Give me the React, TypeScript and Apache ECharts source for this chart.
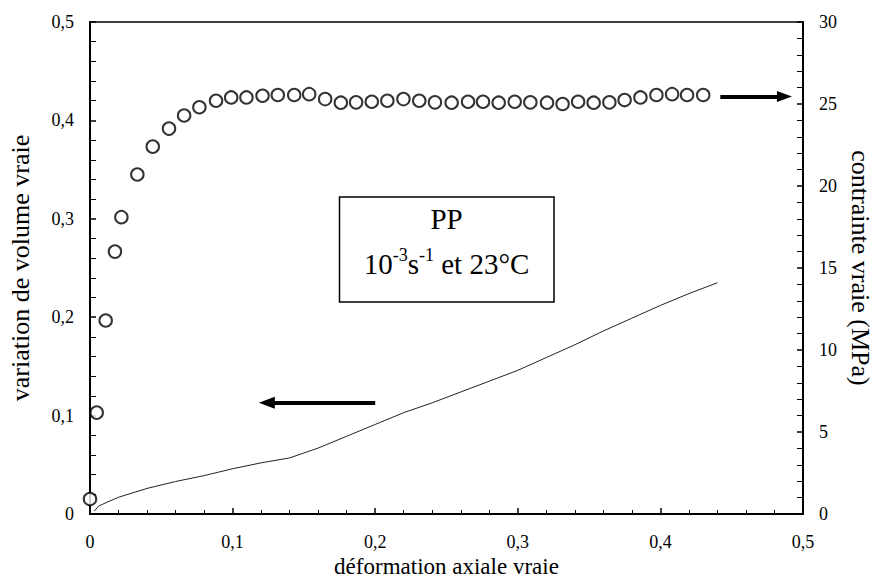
import React, { useEffect, useRef } from "react";
import * as echarts from "echarts";

// Scatter: contrainte vraie (MPa) vs déformation axiale vraie (right axis)
const scatterStrain = [
  0, 0.0047, 0.011, 0.0175, 0.022, 0.0332, 0.044, 0.0554, 0.066, 0.0767, 0.0884, 0.099, 0.1097, 0.121, 0.1317,
  0.1432, 0.1537, 0.1649, 0.1759, 0.1866, 0.1976, 0.2085, 0.2198, 0.2309, 0.2419, 0.2536, 0.2651, 0.2756, 0.2866, 0.2978, 0.3088,
  0.3205, 0.3314, 0.3423, 0.3532, 0.3642, 0.3749, 0.386, 0.3972, 0.4082, 0.4187, 0.43,
];
const scatterStress = [
  0.91, 6.18, 11.8, 16.0, 18.1, 20.7, 22.4, 23.5, 24.3, 24.8, 25.2, 25.4, 25.4, 25.5, 25.55,
  25.55, 25.6, 25.3, 25.08, 25.1, 25.14, 25.2, 25.3, 25.2, 25.1, 25.08, 25.14, 25.14, 25.08, 25.14, 25.1,
  25.08, 25.0, 25.14, 25.08, 25.1, 25.24, 25.4, 25.55, 25.6, 25.55, 25.55,
];

// Line: variation de volume vraie vs déformation axiale vraie (left axis)
const lineStrain = [
  0.003, 0.006, 0.012, 0.02, 0.04, 0.06, 0.08, 0.1, 0.12, 0.14, 0.15, 0.16, 0.18, 0.2, 0.22, 0.24, 0.26, 0.28,
  0.3, 0.32, 0.34, 0.36, 0.38, 0.4, 0.42, 0.44,
];
const lineVolume = [
  0.003, 0.008, 0.012, 0.017, 0.026, 0.033, 0.039, 0.046, 0.052, 0.057, 0.062, 0.067, 0.079, 0.091, 0.103, 0.113,
  0.124, 0.135, 0.146, 0.159, 0.172, 0.186, 0.199, 0.212, 0.224, 0.235,
];

// Arrow annotations (data coordinates)
const leftArrow = { from: [0.2, 0.113], to: [0.124, 0.113] };
const rightArrow = { from: [0.442, 25.45], to: [0.487, 25.45] };

const FONT = "Liberation Serif, Times New Roman, serif";
const fmt = (v: number) => String(Math.round(v * 10) / 10).replace(".", ",");

export default function App() {
  const ref = useRef<HTMLDivElement>(null);
  useEffect(() => {
    if (!ref.current) return;
    const chart = echarts.init(ref.current, undefined, { renderer: "svg" });
    const label = { color: "#000", fontFamily: FONT, fontSize: 18 };
    const nameStyle = { color: "#000", fontFamily: FONT, fontSize: 26 };
    const axisLine = { show: true, lineStyle: { color: "#000", width: 2 } };
    const axisTick = { show: true, inside: true, length: 6, lineStyle: { color: "#000", width: 1.5 } };
    const minorTickY = { show: true, splitNumber: 5, length: 6, lineStyle: { color: "#000", width: 1 } };
    const minorTickX = { show: true, splitNumber: 5, length: 4, lineStyle: { color: "#000", width: 1 } };
    chart.setOption({
      animation: false,
      backgroundColor: "#fff",
      textStyle: { fontFamily: FONT },
      grid: {
        left: 90,
        right: 71,
        top: 22,
        bottom: 66,
        containLabel: false,
        outerBoundsMode: "none",
        show: true,
        borderColor: "#000",
        borderWidth: 1.5,
        backgroundColor: "transparent",
      },
      xAxis: {
        type: "value",
        min: 0,
        max: 0.5,
        interval: 0.1,
        axisLine,
        axisTick,
        minorTick: minorTickX,
        splitLine: { show: false },
        axisLabel: { ...label, margin: 19, lineHeight: 18, formatter: fmt },
        name: "déformation axiale vraie",
        nameLocation: "middle",
        nameGap: 41,
        nameMoveOverlap: false,
        nameTextStyle: { ...nameStyle, fontSize: 23, lineHeight: 22 },
      },
      yAxis: [
        {
          type: "value",
          position: "left",
          min: 0,
          max: 0.5,
          interval: 0.1,
          axisLine,
          axisTick,
          minorTick: minorTickY,
          splitLine: { show: false },
          axisLabel: { ...label, margin: 16, formatter: fmt },
          name: "variation de volume vraie",
          nameLocation: "middle",
          nameRotate: 90,
          nameGap: 57,
          nameMoveOverlap: false,
          nameTextStyle: nameStyle,
        },
        {
          type: "value",
          position: "right",
          min: 0,
          max: 30,
          interval: 5,
          axisLine,
          axisTick,
          minorTick: minorTickY,
          splitLine: { show: false },
          axisLabel: { ...label, margin: 16 },
          name: "contrainte vraie (MPa)",
          nameLocation: "middle",
          nameRotate: -90,
          nameGap: 44,
          nameMoveOverlap: false,
          nameTextStyle: nameStyle,
        },
      ],
      series: [
        {
          type: "line",
          yAxisIndex: 0,
          data: lineStrain.map((x, i) => [x, lineVolume[i]]),
          showSymbol: false,
          symbol: "none",
          lineStyle: { color: "#222", width: 1 },
          markLine: {
            silent: true,
            symbol: ["none", "triangle"],
            symbolSize: [12, 16],
            label: { show: false },
            lineStyle: { color: "#000", width: 4, type: "solid" },
            data: [[{ coord: leftArrow.from }, { coord: leftArrow.to }]],
          },
        },
        {
          type: "scatter",
          yAxisIndex: 1,
          clip: false,
          data: scatterStrain.map((x, i) => [x, scatterStress[i]]),
          symbol: "circle",
          symbolSize: 12.5,
          itemStyle: { color: "#fff", borderColor: "#000", borderWidth: 2 },
          markLine: {
            silent: true,
            symbol: ["none", "triangle"],
            symbolSize: [11, 15],
            label: { show: false },
            lineStyle: { color: "#000", width: 4, type: "solid" },
            data: [[{ coord: rightArrow.from }, { coord: rightArrow.to }]],
          },
        },
      ],
      graphic: [
        {
          type: "rect",
          shape: { x: 339.5, y: 197, width: 214.5, height: 105 },
          style: { fill: "#fff", stroke: "#000", lineWidth: 1.5 },
          z: 10,
        },
        {
          type: "text",
          x: 446.5,
          y: 219,
          z: 11,
          style: { text: "PP", fontFamily: FONT, fontSize: 29, fill: "#000", align: "center", verticalAlign: "middle" },
        },
        {
          type: "text",
          x: 446.5,
          y: 262,
          z: 11,
          style: {
            text: "{a|10}{s|-3}{a|s}{s|-1}{a| et 23°C}",
            align: "center",
            verticalAlign: "middle",
            fontFamily: FONT,
            rich: {
              a: { fontFamily: FONT, fontSize: 29, fill: "#000", lineHeight: 32, verticalAlign: "bottom" },
              s: { fontFamily: FONT, fontSize: 18, fill: "#000", lineHeight: 32, verticalAlign: "top" },
            },
          },
        },
      ],
    });
    return () => chart.dispose();
  }, []);
  return <div ref={ref} style={{ position: "fixed", left: 0, top: 0, width: 874, height: 580 }} />;
}
